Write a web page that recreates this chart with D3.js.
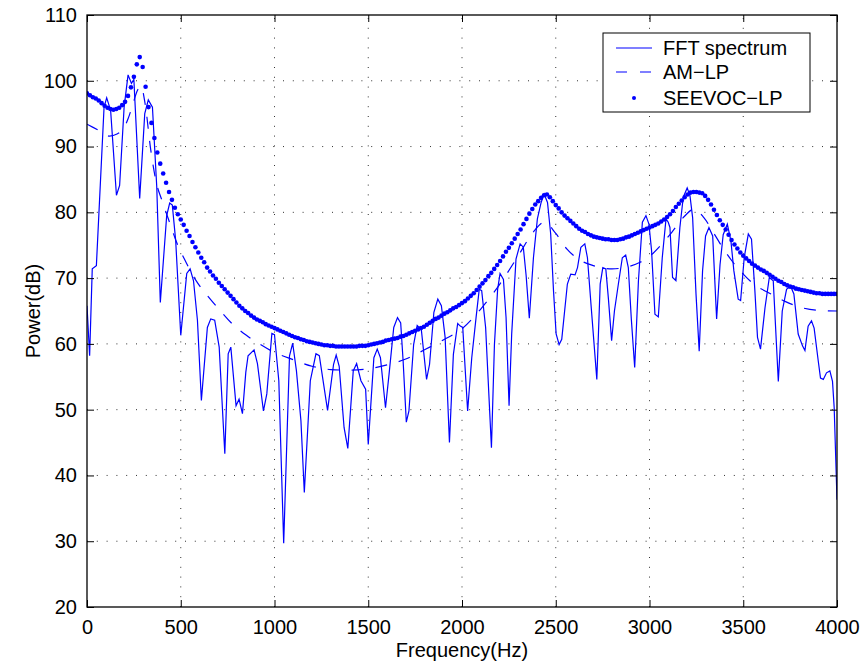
<!DOCTYPE html>
<html>

<head>
  <script src="https://d3js.org/d3.v7.min.js"></script>

  <style>
    body {
      margin: 0;
      background: #fff;
    }

    text {
      font-family: "Liberation Sans", Arial, Helvetica, sans-serif;
      fill: #000;
    }

    .grid line {
      stroke: #333;
      stroke-width: 1;
      stroke-dasharray: 1 8.8;
    }
  </style>
</head>

<body>
  <svg id="chart" width="865" height="666"></svg>

  <script>
    // ---- data ----
    const xTicks = [0, 500, 1000, 1500, 2000, 2500, 3000, 3500, 4000];
    const yTicks = [20, 30, 40, 50, 60, 70, 80, 90, 100, 110];
    const legendLabels = ["FFT spectrum", "AM\u2212LP", "SEEVOC\u2212LP"];

    // FFT spectrum (Hz, dB)
    const fftFreq = [0, 14, 28, 50, 91, 105, 126, 157, 174, 198, 219, 237, 250, 281, 308, 327, 349, 372, 391, 425,
      441, 455, 473, 500, 532, 550, 568, 589, 610, 642, 660, 681, 705, 735, 753, 767, 795, 811, 829, 847,
      859, 891, 909, 941, 959, 986, 1000, 1023, 1049, 1080, 1097, 1117, 1141, 1159, 1191, 1221, 1239, 1283, 1315, 1329,
      1345, 1371, 1391, 1420, 1438, 1461, 1486, 1500, 1530, 1548, 1565, 1592, 1611, 1636, 1656, 1673, 1686, 1703, 1717, 1742,
      1761, 1783, 1811, 1827, 1850, 1871, 1890, 1910, 1933, 1954, 1977, 1991, 2004, 2030, 2052, 2075, 2092, 2105, 2126, 2157,
      2173, 2190, 2203, 2221, 2235, 2251, 2265, 2288, 2310, 2327, 2342, 2359, 2381, 2402, 2422, 2438, 2456, 2473, 2488, 2502,
      2518, 2532, 2562, 2580, 2603, 2616, 2634, 2655, 2669, 2688, 2719, 2737, 2751, 2767, 2781, 2798, 2813, 2834, 2855, 2873,
      2887, 2903, 2921, 2941, 2962, 2981, 2997, 3011, 3029, 3047, 3068, 3088, 3100, 3109, 3123, 3141, 3162, 3180, 3201, 3216,
      3230, 3248, 3265, 3283, 3299, 3317, 3337, 3358, 3376, 3393, 3415, 3434, 3450, 3473, 3486, 3505, 3527, 3544, 3562, 3576,
      3592, 3616, 3639, 3660, 3687, 3708, 3731, 3752, 3770, 3793, 3816, 3829, 3846, 3864, 3878, 3900, 3912, 3927, 3944, 3962,
      3976, 3985, 4000];
    const fftPower = [65.8, 58.2, 71.4, 71.9, 96.0, 97.4, 95.5, 82.6, 84.1, 96.0, 100.9, 99.6, 100.2, 82.1, 95.0, 97.1, 96.0, 83.9, 66.3, 79.5,
      81.4, 81.1, 75.7, 61.3, 70.7, 71.4, 69.6, 63.6, 51.4, 62.5, 63.8, 63.6, 59.5, 43.3, 58.5, 59.5, 50.6, 51.6, 49.4, 55.7,
      58.2, 59.1, 57.0, 49.8, 52.4, 61.6, 61.4, 54.4, 29.7, 58.2, 60.1, 55.9, 48.3, 37.4, 54.4, 58.5, 58.2, 49.9, 56.9, 58.3,
      56.6, 47.3, 44.1, 55.9, 57.0, 54.4, 53.1, 44.7, 57.9, 59.2, 57.9, 50.3, 55.4, 62.5, 64.0, 63.2, 57.4, 48.1, 49.8, 59.9,
      62.8, 62.2, 54.6, 56.9, 64.8, 66.8, 65.8, 61.0, 45.0, 58.4, 63.1, 62.7, 62.5, 49.8, 57.9, 64.0, 68.3, 68.1, 62.5, 44.2,
      59.9, 68.3, 70.7, 69.8, 64.0, 50.6, 61.5, 72.9, 75.2, 74.7, 70.4, 63.9, 73.1, 79.0, 81.5, 82.8, 81.5, 76.7, 68.1, 61.5,
      59.9, 60.7, 69.1, 70.6, 70.5, 71.6, 74.7, 75.2, 73.1, 66.0, 54.6, 69.1, 71.6, 71.4, 66.8, 60.5, 65.0, 69.1, 73.1, 73.5,
      71.6, 63.8, 56.4, 69.6, 78.5, 79.5, 78.2, 74.2, 64.5, 64.1, 73.1, 79.0, 78.5, 77.7, 70.1, 69.6, 77.7, 82.3, 83.7, 82.5,
      79.2, 67.6, 58.9, 71.1, 76.4, 77.7, 76.4, 63.8, 72.0, 76.6, 78.2, 75.7, 71.1, 66.8, 66.6, 73.1, 76.7, 75.9, 68.1, 61.0,
      59.2, 65.5, 70.1, 69.6, 54.3, 65.0, 68.3, 68.8, 67.6, 61.5, 59.7, 59.0, 62.7, 63.5, 62.4, 57.4, 54.8, 54.6, 55.6, 55.9,
      54.3, 50.3, 36.3];

    // AM-LP envelope (Hz, dB)
    const amFreq = [0, 60, 120, 160, 200, 220, 240, 270, 288, 310, 340, 370, 400, 440, 480, 530, 580, 640, 700, 780,
      850, 920, 1000, 1100, 1200, 1300, 1400, 1500, 1600, 1700, 1800, 1900, 2000, 2100, 2200, 2300, 2380, 2440, 2500, 2560,
      2620, 2700, 2800, 2880, 2950, 3000, 3060, 3120, 3180, 3240, 3290, 3350, 3400, 3440, 3500, 3560, 3640, 3720, 3800, 3900,
      4000];
    const amPower = [93.4, 92.5, 91.6, 91.9, 93.0, 94.3, 96.0, 98.6, 99.2, 96.5, 89.5, 84.5, 81.8, 78.5, 75.3, 72.3, 69.7, 67.4, 65.4, 62.9,
      61.3, 60.0, 58.7, 57.6, 56.6, 56.1, 56.0, 56.2, 56.8, 57.7, 59.1, 60.6, 62.3, 65.3, 69.0, 73.4, 77.0, 78.5, 76.8, 74.4,
      72.9, 71.9, 71.4, 71.7, 72.4, 73.3, 75.0, 77.0, 79.2, 80.5, 79.2, 76.5, 74.2, 72.6, 70.6, 69.0, 67.7, 66.5, 65.6, 65.1,
      65.0];

    // SEEVOC-LP envelope, one value per 15.625 Hz bin from 0 to 4000 Hz
    const seevocBinHz = 15.625;
    const seevocPower = [
      98.1, 97.8, 97.5, 97.3, 97.0, 96.6, 96.2, 95.9, 95.7, 95.6, 95.7, 95.9, 96.3, 96.8, 97.7, 99.0,
      100.6, 102.5, 103.6, 102.1, 99.1, 96.0, 93.6, 91.3, 89.1, 87.4, 85.9, 84.5, 83.1, 81.9, 80.7, 79.7,
      78.9, 78.1, 77.2, 76.4, 75.5, 74.7, 73.9, 73.1, 72.4, 71.6, 71.0, 70.4, 69.9, 69.3, 68.8, 68.3,
      67.8, 67.3, 66.8, 66.3, 65.8, 65.4, 65.0, 64.7, 64.3, 64.0, 63.7, 63.5, 63.3, 63.0, 62.8, 62.6,
      62.4, 62.2, 62.0, 61.8, 61.6, 61.4, 61.2, 61.0, 60.9, 60.7, 60.6, 60.4, 60.3, 60.2, 60.1, 60.0,
      59.9, 59.8, 59.8, 59.7, 59.7, 59.6, 59.6, 59.6, 59.6, 59.6, 59.6, 59.6, 59.6, 59.7, 59.7, 59.7,
      59.8, 59.9, 60.0, 60.1, 60.2, 60.3, 60.5, 60.6, 60.7, 60.8, 60.9, 61.1, 61.2, 61.4, 61.6, 61.8,
      62.0, 62.2, 62.4, 62.6, 62.9, 63.2, 63.5, 63.8, 64.0, 64.3, 64.6, 64.8, 65.1, 65.4, 65.6, 65.9,
      66.2, 66.5, 66.9, 67.3, 67.7, 68.2, 68.7, 69.2, 69.7, 70.3, 70.8, 71.4, 72.0, 72.6, 73.3, 74.0,
      74.6, 75.3, 76.0, 76.7, 77.4, 78.2, 79.0, 79.8, 80.5, 81.2, 81.7, 82.2, 82.6, 82.7, 82.3, 81.7,
      81.1, 80.6, 80.0, 79.5, 79.1, 78.7, 78.3, 77.9, 77.5, 77.2, 77.0, 76.7, 76.5, 76.3, 76.2, 76.1,
      76.0, 75.9, 75.9, 75.8, 75.8, 75.8, 75.9, 76.0, 76.2, 76.3, 76.5, 76.7, 76.9, 77.1, 77.3, 77.5,
      77.7, 77.9, 78.1, 78.3, 78.6, 78.9, 79.3, 79.7, 80.2, 80.8, 81.3, 81.8, 82.3, 82.7, 83.0, 83.1,
      83.1, 83.0, 82.9, 82.5, 81.9, 81.2, 80.4, 79.6, 78.8, 78.1, 77.4, 76.6, 75.8, 75.1, 74.5, 73.9,
      73.4, 73.0, 72.6, 72.2, 71.9, 71.6, 71.3, 71.1, 70.8, 70.5, 70.2, 69.9, 69.6, 69.4, 69.1, 68.9,
      68.7, 68.6, 68.4, 68.3, 68.2, 68.1, 68.0, 67.9, 67.8, 67.7, 67.7, 67.6, 67.6, 67.6, 67.6, 67.6,
      67.6];

    // ---- layout ----
    const svg = d3.select("svg#chart");
    const plot = { left: 87, right: 837, top: 15, bottom: 607 };
    const blue = "#0000ff";
    const fontSize = 20;

    const xScale = d3.scaleLinear().domain([0, 4000]).range([plot.left, plot.right]);
    const yScale = d3.scaleLinear().domain([20, 110]).range([plot.bottom, plot.top]);

    // gridlines
    let grid = svg.append("g").attr("class", "grid");
    grid.selectAll(".vx")
      .data(xTicks.slice(1, -1))
      .enter().append("line")
      .attr("x1", d => xScale(d)).attr("x2", d => xScale(d))
      .attr("y1", plot.bottom).attr("y2", plot.top);
    grid.selectAll(".hy")
      .data(yTicks.slice(1, -1))
      .enter().append("line")
      .attr("x1", plot.left).attr("x2", plot.right)
      .attr("y1", d => yScale(d)).attr("y2", d => yScale(d));

    // clip for data
    svg.append("clipPath").attr("id", "clip")
      .append("rect")
      .attr("x", plot.left).attr("y", plot.top)
      .attr("width", plot.right - plot.left).attr("height", plot.bottom - plot.top);

    let chartArea = svg.append("g").attr("clip-path", "url(#clip)");

    const fftLine = d3.line()
      .x((d, i) => xScale(fftFreq[i]))
      .y(d => yScale(d));
    chartArea.append("path")
      .attr("d", fftLine(fftPower))
      .attr("fill", "none")
      .attr("stroke", blue)
      .attr("stroke-width", 1.2);

    const amLine = d3.line()
      .x((d, i) => xScale(amFreq[i]))
      .y(d => yScale(d))
      .curve(d3.curveMonotoneX);
    chartArea.append("path")
      .attr("d", amLine(amPower))
      .attr("fill", "none")
      .attr("stroke", blue)
      .attr("stroke-width", 1.2)
      .attr("stroke-dasharray", "12 12");

    chartArea.selectAll(".seevoc")
      .data(seevocPower)
      .enter().append("circle")
      .attr("cx", (d, i) => xScale(i * seevocBinHz))
      .attr("cy", d => yScale(d))
      .attr("r", 2.3)
      .attr("fill", blue);

    // axes: ticks inside on all four sides, like the original
    let axes = svg.append("g");
    const tickLen = 7;
    const xAxisBottom = d3.axisBottom(xScale).tickValues(xTicks).tickSize(-tickLen).tickPadding(13).tickFormat(d3.format("d"));
    const xAxisTop = d3.axisTop(xScale).tickValues(xTicks).tickSize(-tickLen).tickFormat("");
    const yAxisLeft = d3.axisLeft(yScale).tickValues(yTicks).tickSize(-tickLen).tickPadding(10).tickFormat(d3.format("d"));
    const yAxisRight = d3.axisRight(yScale).tickValues(yTicks).tickSize(-tickLen).tickFormat("");

    [
      [xAxisBottom, `translate(0,${plot.bottom})`],
      [xAxisTop, `translate(0,${plot.top})`],
      [yAxisLeft, `translate(${plot.left},0)`],
      [yAxisRight, `translate(${plot.right},0)`]
    ].forEach(([ax, tr]) => {
      let g = axes.append("g").attr("transform", tr).call(ax);
      g.select(".domain").remove();
      g.selectAll("line").attr("stroke", "#000").attr("stroke-width", 1);
      g.selectAll("text").style("font-size", fontSize + "px").attr("fill", "#000");
    });

    axes.append("rect")
      .attr("x", plot.left).attr("y", plot.top)
      .attr("width", plot.right - plot.left).attr("height", plot.bottom - plot.top)
      .attr("fill", "none").attr("stroke", "#000").attr("stroke-width", 1.3);

    // axis labels
    svg.append("text")
      .attr("x", (plot.left + plot.right) / 2)
      .attr("y", 657)
      .attr("text-anchor", "middle")
      .style("font-size", fontSize + "px")
      .text("Frequency(Hz)");

    svg.append("text")
      .attr("transform", `translate(40,${(plot.top + plot.bottom) / 2}) rotate(-90)`)
      .attr("text-anchor", "middle")
      .style("font-size", fontSize + "px")
      .text("Power(dB)");

    // legend
    const legend = svg.append("g");
    legend.append("rect")
      .attr("x", 603).attr("y", 33).attr("width", 207).attr("height", 79)
      .attr("fill", "#fff").attr("stroke", "#000").attr("stroke-width", 1);

    const rowY = [48, 72, 98];
    legendLabels.forEach((label, i) => {
      const y = rowY[i];
      if (i === 2) {
        legend.append("circle").attr("cx", 634).attr("cy", y).attr("r", 2).attr("fill", blue);
      } else {
        legend.append("line")
          .attr("x1", 616).attr("x2", 652).attr("y1", y).attr("y2", y)
          .attr("stroke", blue).attr("stroke-width", 1.2)
          .attr("stroke-dasharray", i === 1 ? "11 13" : null);
      }
      legend.append("text")
        .attr("x", 663).attr("y", y)
        .attr("dy", "0.35em")
        .style("font-size", fontSize + "px")
        .text(label);
    });
  </script>

</body>

</html>
